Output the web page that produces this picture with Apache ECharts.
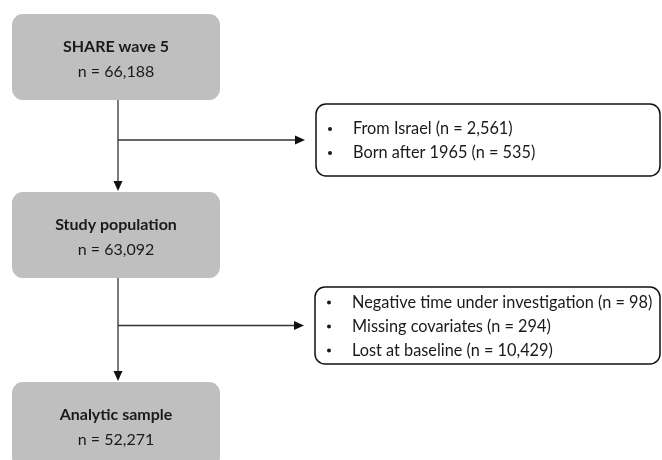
<!DOCTYPE html>
<html><head><meta charset="utf-8">
<script src="https://cdn.jsdelivr.net/npm/echarts@6/dist/echarts.min.js"></script>
<style>html,body{margin:0;padding:0;background:#fff}#c{width:662px;height:460px}</style>
</head><body><div id="c"></div>
<script>
// ---- data ----
const stageTitles = ['SHARE wave 5', 'Study population', 'Analytic sample'];
const stageCounts = ['66,188', '63,092', '52,271'];
const exclusionLabels1 = ['From Israel', 'Born after 1965'];
const exclusionCounts1 = ['2,561', '535'];
const exclusionLabels2 = ['Negative time under investigation', 'Missing covariates', 'Lost at baseline'];
const exclusionCounts2 = ['98', '294', '10,429'];

// ---- layout ----
const FONT = 'Lato, "Open Sans", sans-serif';
const mainX0 = 12, mainX1 = 220, mainH = 86;
const mainTops = [14, 192, 382];
const spineX = 118;
const exBoxes = [
  {x0: 316, x1: 660, y0: 104, y1: 176, labels: exclusionLabels1, counts: exclusionCounts1},
  {x0: 315, x1: 660, y0: 287, y1: 364, labels: exclusionLabels2, counts: exclusionCounts2}
];
const lineColor = '#333';
const textColor = '#1a1a1a';
const elems = [];

stageTitles.forEach((t, i) => {
  const top = mainTops[i];
  elems.push({type: 'rect', shape: {x: mainX0, y: top, width: mainX1 - mainX0, height: mainH, r: 11},
    style: {fill: '#bfbfbf', stroke: null}});
  const cx = (mainX0 + mainX1) / 2;
  elems.push({type: 'text', x: cx, y: top + 33, style: {text: t, font: 'bold 16px ' + FONT, fill: textColor, align: 'center', verticalAlign: 'middle'}});
  elems.push({type: 'text', x: cx, y: top + 58, style: {text: 'n = ' + stageCounts[i], font: '16px ' + FONT, fill: textColor, align: 'center', verticalAlign: 'middle'}});
});

function arrowDown(x, y0, y1) {
  elems.push({type: 'line', shape: {x1: x, y1: y0, x2: x, y2: y1 - 9}, style: {stroke: lineColor, lineWidth: 1.3}});
  elems.push({type: 'polygon', shape: {points: [[x - 4.5, y1 - 10], [x + 4.5, y1 - 10], [x, y1]]}, style: {fill: '#111'}});
}
function arrowRight(y, x0, x1) {
  elems.push({type: 'line', shape: {x1: x0, y1: y, x2: x1 - 9, y2: y}, style: {stroke: lineColor, lineWidth: 1.3}});
  elems.push({type: 'polygon', shape: {points: [[x1 - 10, y - 4.5], [x1 - 10, y + 4.5], [x1, y]]}, style: {fill: '#111'}});
}

for (let i = 0; i < 2; i++) {
  const b = exBoxes[i];
  arrowDown(spineX, mainTops[i] + mainH, mainTops[i + 1] - 1);
  const cy = (b.y0 + b.y1) / 2;
  arrowRight(cy, spineX, b.x0 - 11);
  elems.push({type: 'rect', shape: {x: b.x0, y: b.y0, width: b.x1 - b.x0, height: b.y1 - b.y0, r: 10},
    style: {fill: '#fff', stroke: '#111', lineWidth: 1.5}});
  const n = b.labels.length, gap = 24;
  b.labels.forEach((l, j) => {
    const y = cy + (j - (n - 1) / 2) * gap;
    elems.push({type: 'circle', shape: {cx: b.x0 + 14, cy: y + 1, r: 2}, style: {fill: '#1a1a1a'}});
    elems.push({type: 'text', x: b.x0 + 37, y: y + 1, style: {text: l + ' (n = ' + b.counts[j] + ')', font: '16.3px ' + FONT, fill: textColor, align: 'left', verticalAlign: 'middle'}});
  });
}

const chart = echarts.init(document.getElementById('c'), null, {renderer: 'canvas'});
chart.setOption({backgroundColor: '#fff', animation: false, graphic: {elements: elems}});
</script>
</body></html>
